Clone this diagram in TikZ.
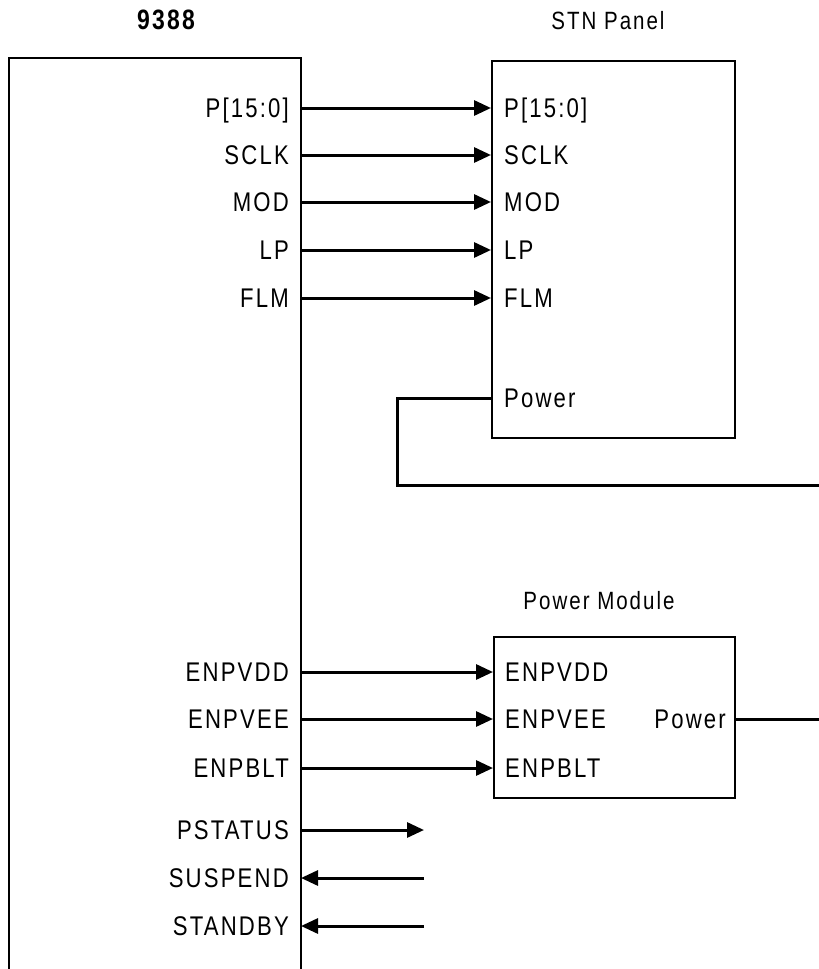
\documentclass[tikz,border=0pt]{standalone}
\usepackage{fontspec}
\setmainfont{Liberation Sans}[LetterSpace=8,FakeStretch=0.82]
\usetikzlibrary{arrows.meta}
\begin{document}
\begin{tikzpicture}[x=1pt,y=-1pt,
  lbl/.style={font=\fontsize{27}{30}\selectfont, inner sep=0pt},
  ttl/.style={font=\fontsize{25}{29}\selectfont, inner sep=0pt},
  box/.style={draw, line width=2pt, inner sep=0pt},
  sig/.style={line width=3pt, -{Triangle[length=17pt,width=15pt]}},
  wire/.style={line width=3pt}]
\useasboundingbox (0,0) rectangle (819,969);
% main chip (open at the bottom)
\coordinate (mBL) at (9,969);
\coordinate (mTL) at (9,58);
\coordinate (mTR) at (301,58);
\coordinate (mBR) at (301,969);
\draw[box] (mBL) -- (mTL) -- (mTR) -- (mBR);
\node[font=\bfseries\fontsize{28}{32}\selectfont, inner sep=0pt, anchor=base] (t9388) at (166,29) {9388};
% STN panel
\node[box, minimum width=243pt, minimum height=377pt, anchor=north west] (stn) at (491,60) {};
\node[ttl, anchor=base] (tstn) at (608,29) {STN Panel};
\foreach \n/\t/\y in {p/P[15:0]/108, sclk/SCLK/155, mod/MOD/202, lp/LP/250, flm/FLM/298} {
  \coordinate (o\n) at (301,\y);
  \node[lbl, anchor=base east] (l\n) at (289,\y+9.5) {\t};
  \node[lbl, anchor=base west] (r\n) at (504,\y+9.5) {\t};
  \draw[sig] (o\n) -- (stn.west |- o\n);
}
\node[lbl, anchor=base west] (spow) at (504,398+9.5) {Power};
\coordinate (pwA) at (397,485);
\coordinate (pwEnd) at (819,485);
\draw[wire] (stn.west |- 0,398) -| (pwA) -- (pwEnd);
% Power module
\node[box, minimum width=241pt, minimum height=161pt, anchor=north west] (pm) at (493,636) {};
\node[ttl, anchor=base] (tpm) at (599,609) {Power Module};
\foreach \n/\t/\y in {vdd/ENPVDD/672, vee/ENPVEE/719, blt/ENPBLT/768} {
  \coordinate (o\n) at (301,\y);
  \node[lbl, anchor=base east] (l\n) at (289,\y+9.5) {\t};
  \node[lbl, anchor=base west] (r\n) at (505,\y+9.5) {\t};
  \draw[sig] (o\n) -- (pm.west |- o\n);
}
\node[lbl, anchor=base east] (mpow) at (726,719+9.5) {Power};
\coordinate (pmEnd) at (819,719);
\draw[wire] (pm.east |- pmEnd) -- (pmEnd);
% status lines
\foreach \n/\t/\y in {ps/PSTATUS/830, su/SUSPEND/878, sb/STANDBY/926} {
  \coordinate (o\n) at (301,\y);
  \coordinate (e\n) at (424,\y);
  \node[lbl, anchor=base east] (l\n) at (289,\y+9.5) {\t};
}
\draw[sig] (ops) -- (eps);
\draw[sig] (esu) -- (osu);
\draw[sig] (esb) -- (osb);
\end{tikzpicture}
\end{document}
